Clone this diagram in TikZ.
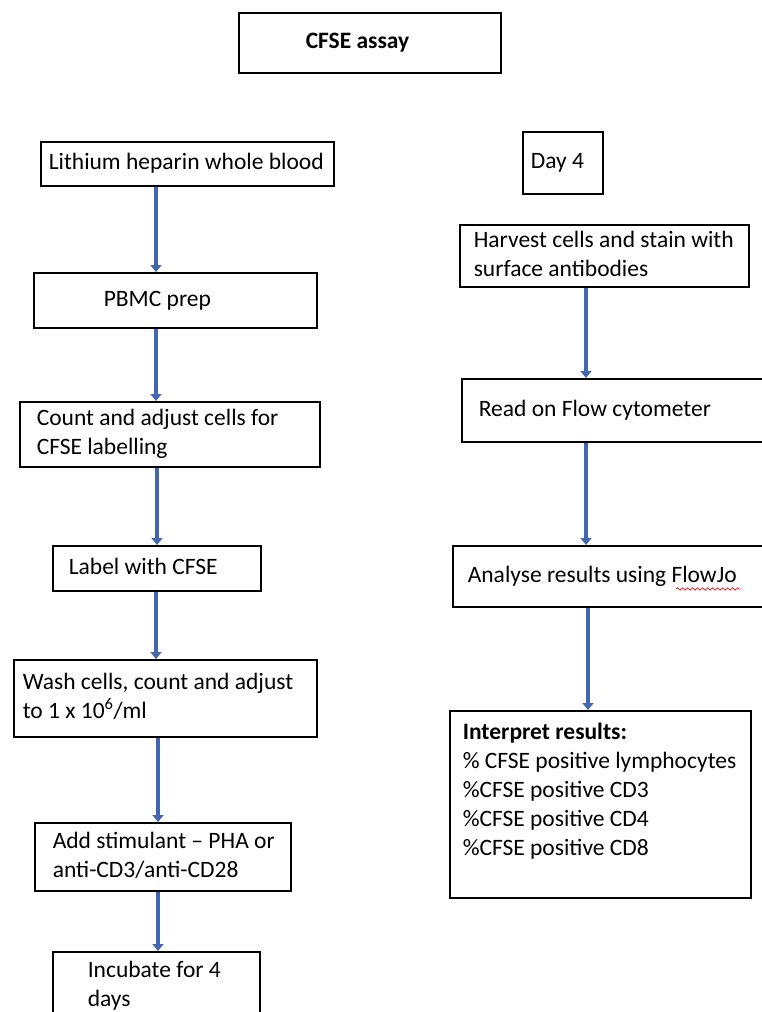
\documentclass[tikz,border=0pt]{standalone}
\usepackage{fontspec}
\setmainfont{Carlito}
\usetikzlibrary{arrows.meta,decorations.pathmorphing}
\definecolor{arrowblue}{RGB}{66,103,178}
\definecolor{squiggle}{RGB}{230,40,40}
\tikzset{
  box/.style={draw=black, line width=1.6pt, anchor=north west,
    font=\fontsize{23.5}{29}\selectfont, inner ysep=0pt},
  flow/.style={draw=arrowblue, line width=4.5pt,
    -{Triangle[width=11pt,length=7pt]}}
}
% \bx{name}{x1}{y1}{x2}{y2}{left pad}{text}
\newcommand{\bx}[7]{%
  \pgfmathsetmacro{\bw}{#4-#2}\pgfmathsetmacro{\bh}{#5-#3}%
  \pgfmathsetmacro{\tw}{#4-#2-2*#6}%
  \node[box, minimum width=\bw pt, minimum height=\bh pt, inner xsep=#6pt]
    (#1) at (#2,#3)
    {\makebox[\tw pt][l]{\begin{tabular}{@{}l@{}}#7\end{tabular}}};}
\begin{document}
\begin{tikzpicture}[x=1pt,y=-1pt]
\useasboundingbox (0,0) rectangle (762,1012);
% title
\bx{title}{238}{12}{500}{72}{67}{\textbf{CFSE assay}}
% left column
\bx{lith}{40}{141}{333}{185}{8}{Lithium heparin whole blood}
\bx{pbmc}{33}{272}{316}{327}{70}{PBMC prep}
\bx{count}{19}{401}{319}{466}{17}{Count and adjust cells for\\CFSE labelling}
\bx{label}{52}{545}{260}{590}{16}{Label with CFSE}
\bx{wash}{13}{659}{316}{736}{9}{Wash cells, count and adjust\\to 1 x 10\textsuperscript{6}/ml}
\bx{stim}{34}{822}{290}{890}{18}{Add stimulant – PHA or\\anti-CD3/anti-CD28}
\bx{incub}{52}{951}{259}{1019}{35}{Incubate for 4\\days}
% right column
\bx{day}{522}{131}{602}{193}{8}{Day 4}
\bx{harv}{459}{224}{748}{286}{14}{Harvest cells and stain with\\surface antibodies}
\bx{read}{461}{378}{775}{441}{17}{Read on Flow cytometer}
\bx{anal}{452}{545}{775}{606}{15}{Analyse results using FlowJo}
\node[box, minimum width=301pt, minimum height=187pt, inner xsep=13pt]
  (interp) at (449,710)
  {\parbox[t][178pt][t]{275pt}{\vspace{4pt}\begin{tabular}[t]{@{}l@{}}\textbf{Interpret results:}\\
  \% CFSE positive lymphocytes\\
  \%CFSE positive CD3\\
  \%CFSE positive CD4\\
  \%CFSE positive CD8\end{tabular}}};
% spell-check squiggle under FlowJo
\coordinate (sq1) at (676,589);
\coordinate (sq2) at (741,589);
\draw[squiggle, line width=0.8pt, decorate,
  decoration={snake, amplitude=1.2pt, segment length=5pt}] (sq1) -- (sq2);
% arrows
\draw[flow] (lith.south -| 156,0) -- (pbmc.north -| 156,0);
\draw[flow] (pbmc.south -| 156,0) -- (count.north -| 156,0);
\draw[flow] (count.south -| 157,0) -- (label.north -| 157,0);
\draw[flow] (label.south -| 156,0) -- (wash.north -| 156,0);
\draw[flow] (wash.south -| 158,0) -- (stim.north -| 158,0);
\draw[flow] (stim.south -| 158,0) -- (incub.north -| 158,0);
\draw[flow] (harv.south -| 586,0) -- (read.north -| 586,0);
\draw[flow] (read.south -| 586,0) -- (anal.north -| 586,0);
\draw[flow] (anal.south -| 588,0) -- (interp.north -| 588,0);
\end{tikzpicture}
\end{document}
